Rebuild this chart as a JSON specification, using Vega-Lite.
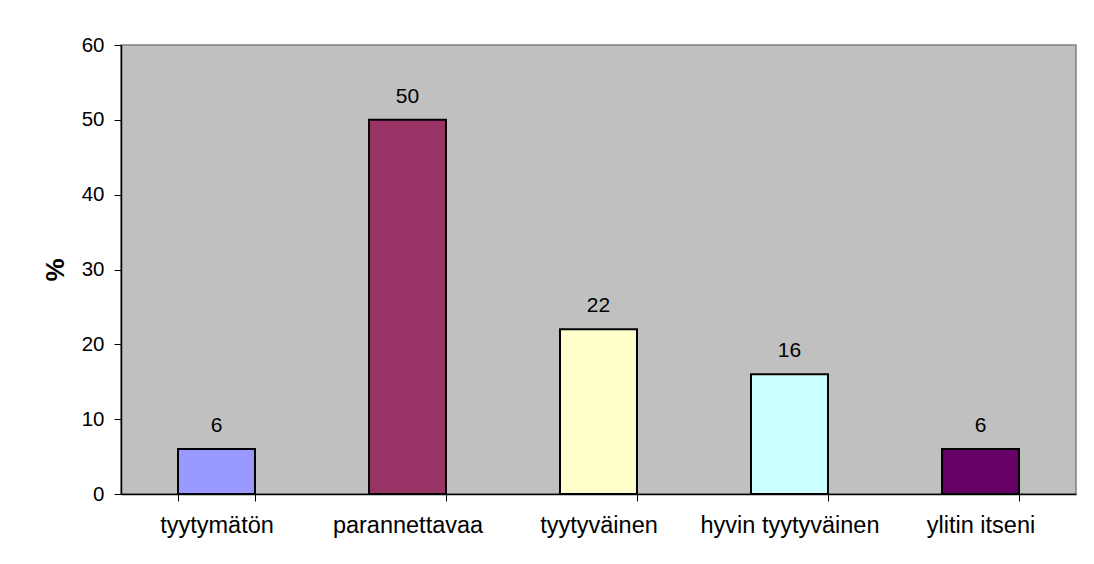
{
  "$schema": "https://vega.github.io/schema/vega-lite/v6.json",
  "autosize": {"type": "none"},
  "padding": {"left": 121, "top": 45, "right": 18, "bottom": 70},
  "width": 955,
  "height": 449,
  "background": "white",
  "config": {
    "view": {"fill": "#C0C0C0", "stroke": "#808080", "strokeWidth": 1.5},
    "font": "Liberation Sans"
  },
  "data": {
    "values": [
      {"kategoria": "tyytymätön", "arvo": 6},
      {"kategoria": "parannettavaa", "arvo": 50},
      {"kategoria": "tyytyväinen", "arvo": 22},
      {"kategoria": "hyvin tyytyväinen", "arvo": 16},
      {"kategoria": "ylitin itseni", "arvo": 6}
    ]
  },
  "encoding": {
    "x": {
      "field": "kategoria",
      "type": "nominal",
      "sort": null,
      "scale": {"paddingInner": 0.597, "paddingOuter": 0.2985},
      "axis": {
        "title": null,
        "labelAngle": 0,
        "labelFont": "Liberation Sans",
        "labelFontSize": 23.5,
        "labelColor": "#000",
        "labelPadding": 12,
        "labelLimit": 0,
        "labelOverlap": false,
        "tickBand": "extent",
        "tickSize": 7,
        "tickColor": "#000",
        "domainColor": "#000",
        "domainWidth": 1.5,
        "grid": false
      }
    },
    "y": {
      "field": "arvo",
      "type": "quantitative",
      "scale": {"domain": [0, 60], "nice": false},
      "axis": {
        "title": "%",
        "titleFont": "Liberation Sans",
        "titleFontSize": 26,
        "titleFontWeight": "bold",
        "titleColor": "#000",
        "titlePadding": 13,
        "values": [0, 10, 20, 30, 40, 50, 60],
        "labelFont": "Liberation Sans",
        "labelFontSize": 20.5,
        "labelColor": "#000",
        "labelPadding": 10,
        "tickSize": 7,
        "tickColor": "#000",
        "domainColor": "#000",
        "domainWidth": 1.5,
        "grid": false
      }
    }
  },
  "layer": [
    {
      "mark": {"type": "bar", "stroke": "#000", "strokeWidth": 2},
      "encoding": {
        "color": {
          "field": "kategoria",
          "type": "nominal",
          "sort": null,
          "scale": {
            "domain": ["tyytymätön", "parannettavaa", "tyytyväinen", "hyvin tyytyväinen", "ylitin itseni"],
            "range": ["#9999FF", "#993366", "#FFFFCC", "#CCFFFF", "#660066"]
          },
          "legend": null
        }
      }
    },
    {
      "mark": {"type": "text", "baseline": "middle", "dy": -23, "fontSize": 21, "font": "Liberation Sans", "color": "#000"},
      "encoding": {"text": {"field": "arvo", "type": "quantitative"}}
    }
  ]
}
